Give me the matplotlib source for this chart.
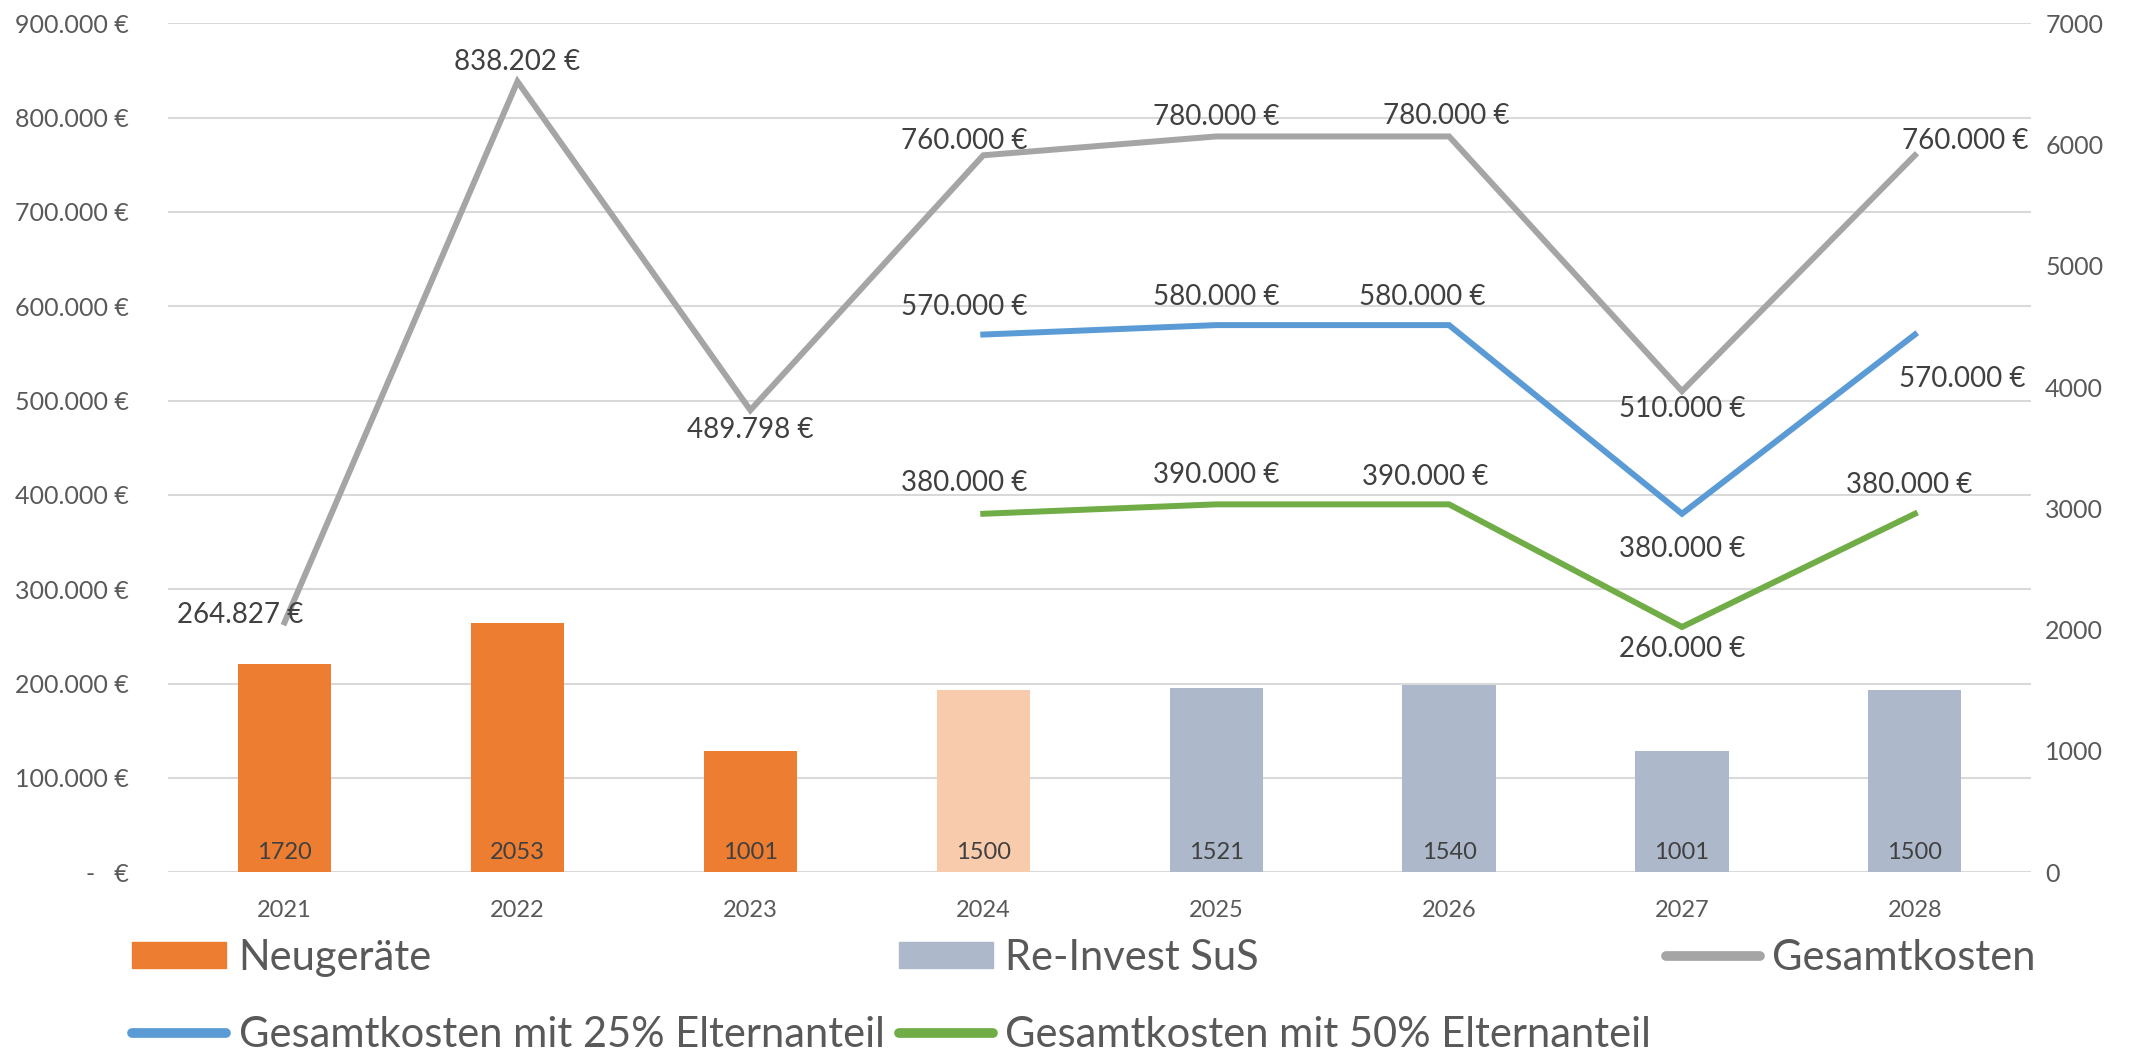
import matplotlib.pyplot as plt
from matplotlib.lines import Line2D
from matplotlib.patches import Patch
import numpy as np

plt.rcParams['font.family'] = ['Lato', 'DejaVu Sans']

years = ['2021', '2022', '2023', '2024', '2025', '2026', '2027', '2028']
geraete = [1720, 2053, 1001, 1500, 1521, 1540, 1001, 1500]
bar_series = ['neu', 'neu', 'neu', 'neu_plan', 'reinvest', 'reinvest', 'reinvest', 'reinvest']
gesamt = [264827, 838202, 489798, 760000, 780000, 780000, 510000, 760000]
gesamt_25 = [np.nan, np.nan, np.nan, 570000, 580000, 580000, 380000, 570000]
gesamt_50 = [np.nan, np.nan, np.nan, 380000, 390000, 390000, 260000, 380000]

# label offsets (points) for the line data labels
off_gesamt = [(-32, 5), (0, 14), (0, -14), (-14, 10), (0, 14), (-2, 15), (0, -13), (36, 10)]
off_25 = [None, None, None, (-14, 20), (0, 20), (-19, 20), (0, -25), (34, -32)]
off_50 = [None, None, None, (-14, 22), (0, 21), (-17, 20), (0, -16), (-4, 21)]

bar_colors = {'neu': '#ED7D31', 'neu_plan': '#F8CBAD', 'reinvest': '#ADB9CA'}
c_gesamt = '#A5A5A5'
c_25 = '#5B9BD5'
c_50 = '#70AD47'
txt = '#404040'
tick_c = '#595959'


def euro(v):
    if v == 0:
        return '-   €'
    return '{:,.0f} €'.format(v).replace(',', '.')


fig = plt.figure(figsize=(21.36, 10.56), dpi=100)
ax = fig.add_axes([0.0787, 0.174, 0.8723, 0.804])
x = np.arange(len(years))

# euro axis: grid + left labels
ax.set_xlim(-0.5, len(years) - 0.5)
ax.set_ylim(0, 900000)
ax.set_yticks(np.arange(0, 900001, 100000))
ax.set_yticklabels([euro(v) for v in np.arange(0, 900001, 100000)])
ax.grid(axis='y', color='#D9D9D9', linewidth=1.5)
ax.set_axisbelow(True)
ax.set_xticks(x)
ax.set_xticklabels(years)
ax.tick_params(length=0, labelsize=17, colors=tick_c, pad=20)
ax.tick_params(axis='y', labelsize=18, pad=28)
for s in ax.spines.values():
    s.set_visible(False)

# bars on the secondary axis
axb = ax.twinx()
axb.set_ylim(0, 7000)
axb.set_yticks(np.arange(0, 7001, 1000))
axb.tick_params(length=0, labelsize=18, colors=tick_c, pad=10)
for s in axb.spines.values():
    s.set_visible(False)
axb.bar(x, geraete, width=0.4, color=[bar_colors[k] for k in bar_series])
for xi, v in zip(x, geraete):
    axb.annotate(str(v), (xi, 0), xytext=(0, 14), textcoords='offset points',
                 ha='center', va='center', fontsize=17, color=txt)

# lines on top
axl = ax.twinx()
axl.set_ylim(0, 900000)
axl.set_yticks([])
for s in axl.spines.values():
    s.set_visible(False)

for vals, col, offs in [(gesamt, c_gesamt, off_gesamt), (gesamt_25, c_25, off_25),
                        (gesamt_50, c_50, off_50)]:
    axl.plot(x, vals, color=col, linewidth=4.3, solid_joinstyle='miter')
    for xi, v, o in zip(x, vals, offs):
        if o is None or np.isnan(v):
            continue
        axl.annotate(euro(v), (xi, v), xytext=o, textcoords='offset points',
                     ha='center', va='center', fontsize=20, color=txt)

handles = [Patch(color='#ED7D31'),
           Line2D([], [], color=c_25, linewidth=7, solid_capstyle='round'),
           Patch(color='#ADB9CA'),
           Line2D([], [], color=c_50, linewidth=7, solid_capstyle='round'),
           Line2D([], [], color=c_gesamt, linewidth=7, solid_capstyle='round')]
labels = ['Neugeräte', 'Gesamtkosten mit 25% Elternanteil', 'Re-Invest SuS',
          'Gesamtkosten mit 50% Elternanteil', 'Gesamtkosten']
leg = fig.legend(handles, labels, ncol=3, loc='upper left', bbox_to_anchor=(0.062, 0.111),
                 frameon=False, fontsize=30, handlelength=2.25, handleheight=0.6,
                 handletextpad=0.3, columnspacing=0.35, labelspacing=0.95,
                 borderpad=0, borderaxespad=0)
for t in leg.get_texts():
    t.set_color(tick_c)

fig.savefig('out.png', dpi=100)
